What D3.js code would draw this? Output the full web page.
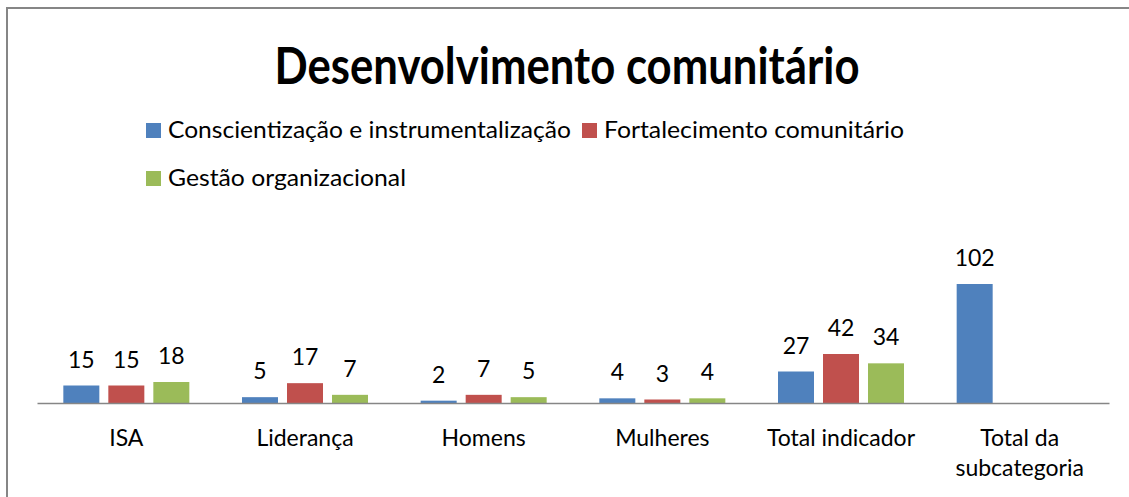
<!DOCTYPE html>
<html>
   <head>
      <meta charset="utf-8">
      <style>
         body { margin: 0; background: #fff; }
         text { font-family: Lato, "Open Sans", sans-serif; fill: #000; }
         .frame { fill: none; stroke: #868686; stroke-width: 2; }
         .axis path { stroke: #868686; stroke-width: 1.5; }
      </style>
      <script src="https://cdn.jsdelivr.net/npm/d3@7/dist/d3.min.js"></script>
   </head>

   <body>
      <svg width="1129" height="497"></svg>
      <script>
        var title = "Desenvolvimento comunitário";
        var categories = ["ISA", "Liderança", "Homens", "Mulheres", "Total indicador", "Total da subcategoria"];
        var series = ["Conscientização e instrumentalização", "Fortalecimento comunitário", "Gestão organizacional"];
        var colors = ["#4F81BD", "#C0504D", "#9BBB59"];
        // values per series, one per category (null = no bar)
        var conscientizacao = [15, 5, 2, 4, 27, 102];
        var fortalecimento = [15, 17, 7, 3, 42, null];
        var gestao = [18, 7, 5, 4, 34, null];
        var values = [conscientizacao, fortalecimento, gestao];

        var svg = d3.select("svg");

        svg.append("rect")
            .attr("class", "frame")
            .attr("x", 7).attr("y", 8)
            .attr("width", 1300).attr("height", 700);

        svg.append("text")
            .attr("x", 567).attr("y", 84)
            .attr("text-anchor", "middle")
            .attr("font-size", 52)
            .attr("font-weight", "bold")
            .attr("textLength", 585)
            .attr("lengthAdjust", "spacingAndGlyphs")
            .text(title);

        // legend
        var legendPos = [[146, 123, 403], [582, 123, 300], [146, 171, 238]];
        var legend = svg.selectAll(".legend")
            .data(series)
            .enter()
            .append("g")
            .attr("class", "legend")
            .attr("transform", function(d, i) { return "translate(" + legendPos[i][0] + "," + legendPos[i][1] + ")"; });
        legend.append("rect")
            .attr("width", 15).attr("height", 15)
            .attr("fill", function(d, i) { return colors[i]; });
        legend.append("text")
            .attr("x", 22).attr("y", 15)
            .attr("font-size", 24)
            .attr("textLength", function(d, i) { return legendPos[i][2]; })
            .attr("lengthAdjust", "spacingAndGlyphs")
            .text(function(d) { return d; });

        var x = d3.scaleBand().domain(categories).range([37, 1109]);
        var xSub = d3.scaleBand().domain(series)
            .range([(x.bandwidth() - 126) / 2, (x.bandwidth() + 126) / 2])
            .paddingInner(0.2);
        var y = d3.scaleLinear().domain([0, 120]).range([403, 263]);

        var bars = [];
        values.forEach(function(vals, s) {
            vals.forEach(function(v, c) {
                if (v !== null) bars.push({ s: s, c: c, v: v });
            });
        });

        var g = svg.append("g");
        g.selectAll(".bar")
            .data(bars)
            .enter()
            .append("rect")
            .attr("class", "bar")
            .attr("x", function(d) { return x(categories[d.c]) + xSub(series[d.s]); })
            .attr("y", function(d) { return y(d.v); })
            .attr("width", xSub.bandwidth())
            .attr("height", function(d) { return y(0) - y(d.v); })
            .attr("fill", function(d) { return colors[d.s]; });

        g.selectAll(".label")
            .data(bars)
            .enter()
            .append("text")
            .attr("class", "label")
            .attr("x", function(d) { return x(categories[d.c]) + xSub(series[d.s]) + xSub.bandwidth() / 2; })
            .attr("y", function(d) { return y(d.v) - 18; })
            .attr("text-anchor", "middle")
            .attr("font-size", 23)
            .text(function(d) { return d.v; });

        var axis = svg.append("g")
            .attr("class", "axis")
            .attr("transform", "translate(0," + y(0) + ")")
            .call(d3.axisBottom(x).tickSize(0).tickSizeOuter(0));
        axis.selectAll("text")
            .attr("font-size", 23)
            .attr("font-family", null)
            .attr("y", 43)
            .attr("dy", null)
            .each(function(d) {
                var t = d3.select(this);
                if (this.getComputedTextLength() > x.bandwidth() - 10) {
                    var words = d.split(" ");
                    t.text(null);
                    t.append("tspan").attr("x", 0).text(words.slice(0, -1).join(" "));
                    t.append("tspan").attr("x", 0).attr("dy", 30).text(words[words.length - 1]);
                }
            });
        axis.select(".domain").attr("stroke", "#868686");
      </script>
   </body>
</html>
